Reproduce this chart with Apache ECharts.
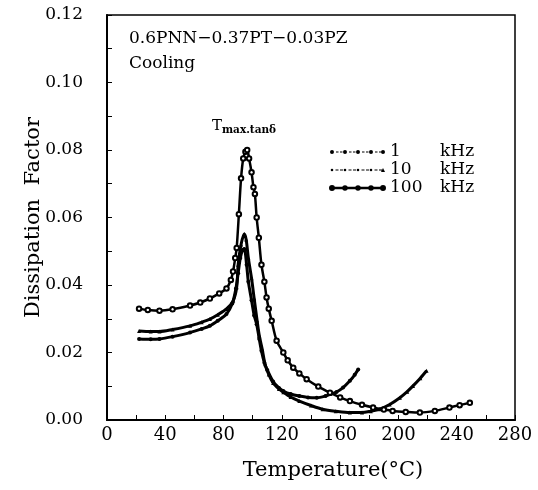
<!DOCTYPE html>
<html>
<head>
<meta charset="utf-8">
<script src="https://cdn.jsdelivr.net/npm/echarts@6/dist/echarts.min.js"></script>
<style>html,body{margin:0;padding:0;background:#fff;}#c{width:538px;height:490px;}</style>
</head>
<body>
<div id="c"></div>
<script>
// Temperature (°C) / dissipation factor pairs
var temps1k = [22,30,36,45,57,65,70.6,76,82,86,88.5,90,91.5,93,94.2,95.8,97,99.2,101,102.7,104.5,106,108,110,114,118,121,126,132,138,144,150,153.5,157.5,162,166.7,170,172.4];
var vals1k  = [0.024,0.0239,0.024,0.0247,0.0259,0.027,0.0279,0.0294,0.0314,0.0345,0.039,0.0435,0.048,0.0503,0.0507,0.046,0.041,0.0355,0.031,0.0284,0.024,0.0205,0.017,0.0148,0.0114,0.0095,0.0086,0.0077,0.0071,0.0067,0.0066,0.0071,0.0077,0.0083,0.0096,0.0116,0.0134,0.015];

var temps10k = [22,30,36,45,57,65,70.6,76,82,86.6,89,90,92,94.2,95.5,97,99.2,101,103,104.5,106.5,108.5,111,114,118,121,126,132,140,148,157,166.7,175,181,187,194,201,206,210,215,219.3];
var vals10k  = [0.0264,0.0262,0.0262,0.0268,0.0279,0.029,0.0299,0.0312,0.0329,0.0353,0.0393,0.046,0.052,0.0551,0.0535,0.048,0.042,0.036,0.0295,0.025,0.021,0.0165,0.0135,0.011,0.0092,0.0082,0.0068,0.0056,0.0043,0.0032,0.0026,0.0022,0.0022,0.0026,0.0032,0.0046,0.0066,0.0084,0.0101,0.0124,0.0146];

var temps100k = [22,28,36,45,57,64,70.6,77,82,85,86.5,88,89,90.5,92,93.5,95,96.2,97.5,99.2,100.5,101.5,102.7,104.2,106,108,109.5,111,113,116.4,121,124,127.8,132,137,145,153,160,166.7,175,182.6,190,196,205,214.7,225,235,242,249];
var vals100k  = [0.033,0.0326,0.0324,0.0328,0.0339,0.0348,0.036,0.0375,0.039,0.0415,0.044,0.048,0.051,0.061,0.0716,0.0775,0.0795,0.080,0.0775,0.0734,0.069,0.067,0.060,0.054,0.046,0.041,0.0363,0.033,0.0294,0.0235,0.020,0.0177,0.0155,0.0138,0.0121,0.0099,0.0081,0.0067,0.0056,0.0045,0.0037,0.0031,0.0027,0.0024,0.0022,0.0027,0.0037,0.0044,0.0051];

var seriesNames = ['1 kHz','10 kHz','100 kHz'];
var xTicks = [0,40,80,120,160,200,240,280];
var yTicks = [0.00,0.02,0.04,0.06,0.08,0.10,0.12];

function pairs(t, v){ return t.map(function(x,i){ return [x, v[i]]; }); }

var FONT = '"DejaVu Serif", serif';

// legend icons (dotted line with markers)
function circ(cx, cy, r, ccw){
  var s = ccw ? 0 : 1;
  return 'M'+(cx-r)+','+cy+' A'+r+','+r+' 0 1,'+s+' '+(cx+r)+','+cy+' A'+r+','+r+' 0 1,'+s+' '+(cx-r)+','+cy+' Z ';
}
function rect(x, w, h){ h = h || 1; var y0 = 3 - h/2; return 'M'+x+','+y0+' L'+(x+w)+','+y0+' L'+(x+w)+','+(y0+h)+' L'+x+','+(y0+h)+' Z '; }
function tri(cx){ return 'M'+(cx-2)+',5 L'+cx+',1 L'+(cx+2)+',5 Z '; }
var centers = [2,15,28,41,53];
var icon1 = '', icon10 = '', icon100 = '';
centers.forEach(function(c,i){
  icon1 += circ(c,3,2,false);
  icon10 += (i===4 ? tri(c) : circ(c,3,1.3,false));
  if(i===0||i===4){ icon100 += circ(c,3,2,false) + circ(c,3,1.1,true); }
  else icon100 += circ(c,3,1.8,false);
  if(i<4){
    icon1 += rect(c+4,2.5) + rect(c+8,2.5);
    icon10 += rect(c+3.5,3) + rect(c+8,3);
    icon100 += rect(c+2, 9, 0.7);
  }
});
icon1 += 'M0,1 L0.01,1 L0.01,5 L0,5 Z M54.99,1 L55,1 L55,5 L54.99,5 Z';
icon10 += 'M0,1 L0.01,1 L0.01,5 L0,5 Z M54.99,1 L55,1 L55,5 L54.99,5 Z';

var chart = echarts.init(document.getElementById('c'), null, {renderer:'canvas'});
chart.setOption({
  animation: false,
  backgroundColor: '#fff',
  grid: {left:107, right:23, top:15, bottom:70, show:true, borderColor:'#000', borderWidth:1.5},
  xAxis: {
    type:'value', min:0, max:280, interval:40,
    axisLine:{show:true, onZero:false, lineStyle:{color:'#000', width:2}},
    axisTick:{show:true, inside:true, length:5, lineStyle:{color:'#000', width:1}},
    minorTick:{show:true, splitNumber:2, length:5, lineStyle:{color:'#000', width:1}},
    splitLine:{show:false},
    axisLabel:{color:'#000', fontFamily:FONT, fontSize:18, margin:6,
      formatter:function(v){ return xTicks.indexOf(v)>=0 ? String(v) : ''; }},
    name:'Temperature(°C)', nameLocation:'middle', nameGap:40, nameMoveOverlap:false,
    nameTextStyle:{color:'#000', fontFamily:FONT, fontSize:21, padding:[0,0,0,44]}
  },
  yAxis: {
    type:'value', min:0, max:0.12, interval:0.02,
    axisLine:{show:true, onZero:false, lineStyle:{color:'#000', width:2}},
    axisTick:{show:true, inside:true, length:5, lineStyle:{color:'#000', width:1}},
    minorTick:{show:true, splitNumber:2, length:5, lineStyle:{color:'#000', width:1}},
    splitLine:{show:false},
    axisLabel:{color:'#000', fontFamily:FONT, fontSize:17, margin:24,
      formatter:function(v){ return v.toFixed(2); }},
    name:'Dissipation  Factor', nameLocation:'middle', nameGap:63, nameMoveOverlap:false,
    nameTextStyle:{color:'#000', fontFamily:FONT, fontSize:21}
  },
  legend: {
    orient:'vertical', left:324, top:138, itemWidth:55, itemHeight:4, itemGap:0,
    symbolKeepAspect:false,
    data:[
      {name:seriesNames[0], icon:'path://'+icon1},
      {name:seriesNames[1], icon:'path://'+icon10},
      {name:seriesNames[2], icon:'path://'+icon100}
    ],
    formatter:function(n){ return '{n|'+n.split(' ')[0]+'}{u|kHz}'; },
    textStyle:{color:'#000', fontFamily:FONT, fontSize:17, lineHeight:18,
      rich:{n:{width:50, fontFamily:FONT, fontSize:17}, u:{fontFamily:FONT, fontSize:17}}}
  },
  graphic: [
    {type:'text', left:129, top:30, style:{text:'0.6PNN\u22120.37PT\u22120.03PZ', font:'17px "DejaVu Serif", serif', fill:'#000'}},
    {type:'text', left:129, top:55, style:{text:'Cooling', font:'17px "DejaVu Serif", serif', fill:'#000'}},
    {type:'text', left:212, top:119, style:{text:'{t|T}{s|max.tan\u03b4}', fill:'#000',
      rich:{t:{fontFamily:FONT, fontSize:15, fill:'#000'}, s:{fontFamily:FONT, fontSize:10.5, fontWeight:'bold', fill:'#000', padding:[8,0,0,0]}}}}
  ],
  series: [
    {name:seriesNames[0], type:'line', data:pairs(temps1k, vals1k), smooth:0.3,
      symbol:'circle', symbolSize:4, showAllSymbol:true, color:'#000',
      itemStyle:{color:'#000'}, lineStyle:{color:'#000', width:3}},
    {name:seriesNames[1], type:'line', data:pairs(temps10k, vals10k), smooth:0.3,
      symbol:'triangle', symbolSize:4, showAllSymbol:true, color:'#000',
      itemStyle:{color:'#000'}, lineStyle:{color:'#000', width:3}},
    {name:seriesNames[2], type:'line', data:pairs(temps100k, vals100k), smooth:0.3,
      symbol:'emptyCircle', symbolSize:4.5, showAllSymbol:true, color:'#000',
      itemStyle:{color:'#000', borderColor:'#000', borderWidth:1.4}, lineStyle:{color:'#000', width:2.5}}
  ]
});
</script>
</body>
</html>
